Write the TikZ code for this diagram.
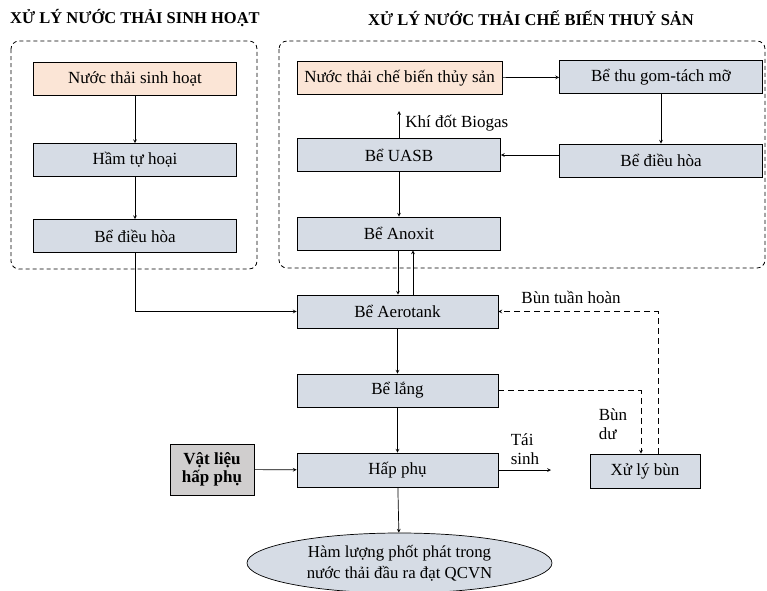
\documentclass[tikz,border=0pt]{standalone}
\usepackage{fontspec}
\setmainfont{Liberation Serif}
\usetikzlibrary{calc,shapes.geometric}

\definecolor{boxblue}{HTML}{D6DCE5}
\definecolor{boxpeach}{HTML}{FBE5D6}
\definecolor{boxgray}{HTML}{D0CECE}

\begin{document}
\begin{tikzpicture}[x=1pt, y=-1pt, >=stealth, line width=0.7pt,
        box/.style={rectangle, draw=black, fill=boxblue, minimum width=203pt, minimum height=33pt, inner sep=0pt, font=\fontsize{17}{20}\selectfont},
        inbox/.style={box, fill=boxpeach},
        lbl/.style={font=\fontsize{17}{19}\selectfont, align=left, inner sep=0pt},
        head/.style={font=\fontsize{16.5}{19}\selectfont\bfseries},
        group/.style={draw=black, dashed, dash pattern=on 4pt off 3pt, line width=0.8pt, rounded corners=8pt}]
        \useasboundingbox (0,0) rectangle (767,590);

        % headers and dashed groups
        \node (headSH) [head] at (135,18) {XỬ LÝ NƯỚC THẢI SINH HOẠT};
        \node (headTS) [head] at (531,18) {XỬ LÝ NƯỚC THẢI CHẾ BIẾN THUỶ SẢN};
        \draw[group] (11,41) rectangle (257,269);
        \draw[group] (279,41) rectangle (765,268);

        % domestic line
        \node (nuocSH) [inbox] at (135,79) {Nước thải sinh hoạt};
        \node (hamTH) [box] at (135,160) {Hầm tự hoại};
        \node (dhoaSH) [box] at (135,236) {Bể điều hòa};

        % seafood line
        \node (nuocTS) [inbox, minimum width=205pt] at (399.5,78) {Nước thải chế biến thủy sản};
        \node (tachMo) [box] at (661,77) {Bể thu gom-tách mỡ};
        \node (dhoaTS) [box] at (661,160.5) {Bể điều hòa};
        \node (uasb) [box] at (399,155) {Bể UASB};
        \node (anoxit) [box] at (399,233.5) {Bể Anoxit};
        \coordinate (biogas) at (399,111);
        \node (biogasL) [lbl, anchor=west] at (405,123) {Khí đốt Biogas};

        % common line
        \node (aerotank) [box, minimum width=201pt] at (397.5,311.5) {Bể Aerotank};
        \node (lang) [box, minimum width=201pt] at (397.5,390.5) {Bể lắng};
        \node (hapPhu) [box, minimum width=201pt, minimum height=34pt] at (397.5,470) {Hấp phụ};
        \node (vatLieu) [box, fill=boxgray, minimum width=84pt, minimum height=51pt, align=center, font=\fontsize{17}{18}\selectfont\bfseries] at (212,469.5) {Vật liệu\\hấp phụ};
        \node (xuLyBun) [box, minimum width=110pt, minimum height=34pt] at (645,471) {Xử lý bùn};
        \node (ketQua) [ellipse, draw=black, fill=boxblue, minimum width=305pt, minimum height=60pt, inner sep=0pt, align=center, font=\fontsize{16.8}{21}\selectfont] at (399.5,563) {Hàm lượng phốt phát trong\\nước thải đầu ra đạt QCVN};
        \coordinate (taiSinh) at (551,470);
        \node (taiSinhL) [lbl] at (525,449) {Tái\\sinh};
        \node (bunDuL) [lbl] at (613,424) {Bùn\\dư};
        \node (bunTHL) [lbl] at (571,297) {Bùn tuần hoàn};

        % connectors
        \draw[->] (nuocSH) -- (hamTH);
        \draw[->] (hamTH) -- (dhoaSH);
        \draw[->] (dhoaSH.south) |- (aerotank.west);
        \draw[->] (nuocTS) -- (tachMo);
        \draw[->] (tachMo) -- (dhoaTS);
        \draw[->] (uasb.east -| dhoaTS.west) -- (uasb.east);
        \draw[->] (uasb.north) -- (biogas);
        \draw[->] (uasb) -- (anoxit);
        \draw[->] ($(anoxit.south)+(-1,0)$) -- ($(aerotank.north)+(0.5,0)$);
        \draw[->] ($(aerotank.north)+(15.5,0)$) -- ($(anoxit.south)+(14,0)$);
        \draw[->] (aerotank) -- (lang);
        \draw[->] (lang) -- (hapPhu);
        \draw[->] (vatLieu) -- (hapPhu);
        \draw[->] (hapPhu.east) -- (taiSinh);
        \draw[->] (hapPhu) -- (ketQua);
        \draw[->, dashed, dash pattern=on 6pt off 4pt] (lang.east) -| ($(xuLyBun.north)+(-4,0)$);
        \draw[->, dashed, dash pattern=on 6pt off 4pt] ($(xuLyBun.north)+(13,0)$) |- (aerotank.east);
    \end{tikzpicture}
\end{document}
